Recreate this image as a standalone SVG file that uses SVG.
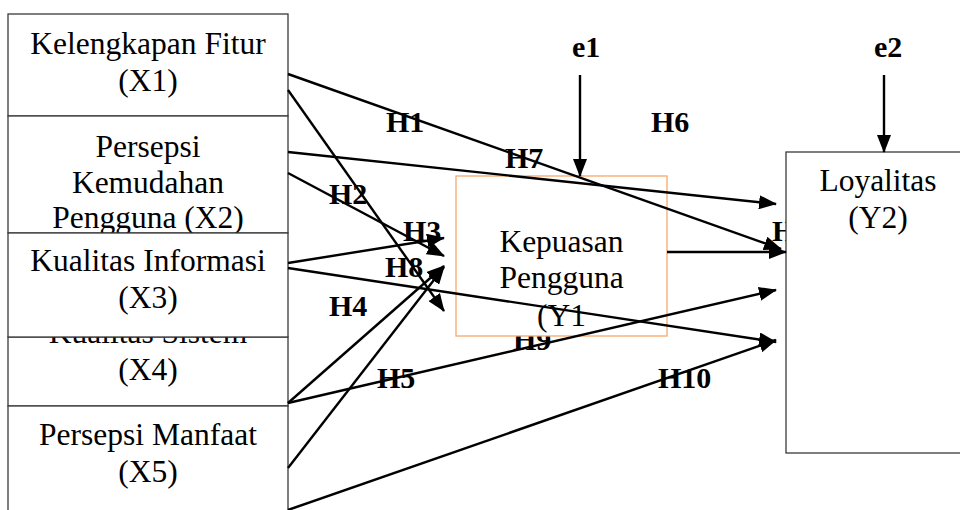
<svg xmlns="http://www.w3.org/2000/svg" width="960" height="510" viewBox="0 0 960 510">
  <style>
    .box { fill: #ffffff; stroke: #3a3a3a; stroke-width: 1.3; }
    .ybox { fill: #ffffff; stroke: #f7a86a; stroke-width: 1.3; }
    .t { font-family: "Liberation Serif", "Times New Roman", serif; font-size: 31.5px; text-anchor: middle; fill: #000; }
    .h { font-family: "Liberation Serif", "Times New Roman", serif; font-size: 30px; font-weight: bold; fill: #000; }
    .c { stroke: #000; stroke-width: 2.4; fill: none; marker-end: url(#arrow); }
  </style>
  <defs>
    <marker id="arrow" markerUnits="userSpaceOnUse" markerWidth="18" markerHeight="14" refX="17" refY="7" orient="auto">
      <path d="M0,0 L18,7 L0,14 z" fill="#000"/>
    </marker>
  </defs>
  <rect width="960" height="510" fill="#ffffff"/>

  <!-- independent variables (stacked boxes) -->
  <g id="x1">
    <rect class="box" x="8" y="14" width="280" height="102"/>
    <text class="t" x="148" y="54">Kelengkapan Fitur</text>
    <text class="t" x="148" y="91">(X1)</text>
  </g>
  <g id="x2">
    <rect class="box" x="8" y="116" width="280" height="117"/>
    <text class="t" x="148" y="157">Persepsi</text>
    <text class="t" x="148" y="193">Kemudahan</text>
    <text class="t" x="148" y="228">Pengguna (X2)</text>
  </g>
  <g id="x4">
    <rect class="box" x="8" y="337" width="280" height="69"/>
    <text class="t" x="148" y="343">Kualitas Sistem</text>
    <text class="t" x="148" y="380">(X4)</text>
  </g>
  <g id="x3">
    <rect class="box" x="8" y="233" width="280" height="104"/>
    <text class="t" x="148" y="271">Kualitas Informasi</text>
    <text class="t" x="148" y="308">(X3)</text>
  </g>
  <g id="x5">
    <rect class="box" x="8" y="406" width="280" height="120"/>
    <text class="t" x="148" y="445">Persepsi Manfaat</text>
    <text class="t" x="148" y="482">(X5)</text>
  </g>

  <!-- hypothesis and error labels -->
  <g id="labels">
    <text class="h" x="386" y="132">H1</text>
    <text class="h" x="329" y="204">H2</text>
    <text class="h" x="403" y="241">H3</text>
    <text class="h" x="329" y="316">H4</text>
    <text class="h" x="377" y="388">H5</text>
    <text class="h" x="651" y="132">H6</text>
    <text class="h" x="505" y="168">H7</text>
    <text class="h" x="385" y="277">H8</text>
    <text class="h" x="513" y="350">H9</text>
    <text class="h" x="658" y="388">H10</text>
    <text class="h" x="772" y="241">H</text>
    <text class="h" x="572" y="57">e1</text>
    <text class="h" x="874" y="57">e2</text>
  </g>

  <!-- mediating variable -->
  <g id="y1">
    <rect class="ybox" x="456" y="176" width="211" height="160"/>
    <text class="t" x="561.5" y="252">Kepuasan</text>
    <text class="t" x="561.5" y="288">Pengguna</text>
    <text class="t" x="561.5" y="326">(Y1</text>
  </g>

  <!-- dependent variable -->
  <g id="y2">
    <rect class="box" x="786" y="152" width="190" height="301"/>
    <text class="t" x="878" y="191">Loyalitas</text>
    <text class="t" x="878" y="228">(Y2)</text>
  </g>

  <!-- paths -->
  <g id="connectors">
    <line class="c" x1="288" y1="74" x2="781" y2="249"/>
    <line class="c" x1="288" y1="90" x2="444" y2="311"/>
    <line class="c" x1="288" y1="152" x2="776" y2="204"/>
    <line class="c" x1="288" y1="173" x2="444" y2="256"/>
    <line class="c" x1="288" y1="263" x2="444" y2="238"/>
    <line class="c" x1="288" y1="268" x2="776" y2="342"/>
    <line class="c" x1="288" y1="403" x2="444" y2="266"/>
    <line class="c" x1="288" y1="403" x2="776" y2="290"/>
    <line class="c" x1="288" y1="468" x2="444" y2="267"/>
    <line class="c" x1="288" y1="510" x2="776" y2="340"/>
    <line class="c" x1="667" y1="252" x2="786" y2="252"/>
    <line class="c" x1="580" y1="75" x2="580" y2="176"/>
    <line class="c" x1="884" y1="75" x2="884" y2="152"/>
  </g>
</svg>
